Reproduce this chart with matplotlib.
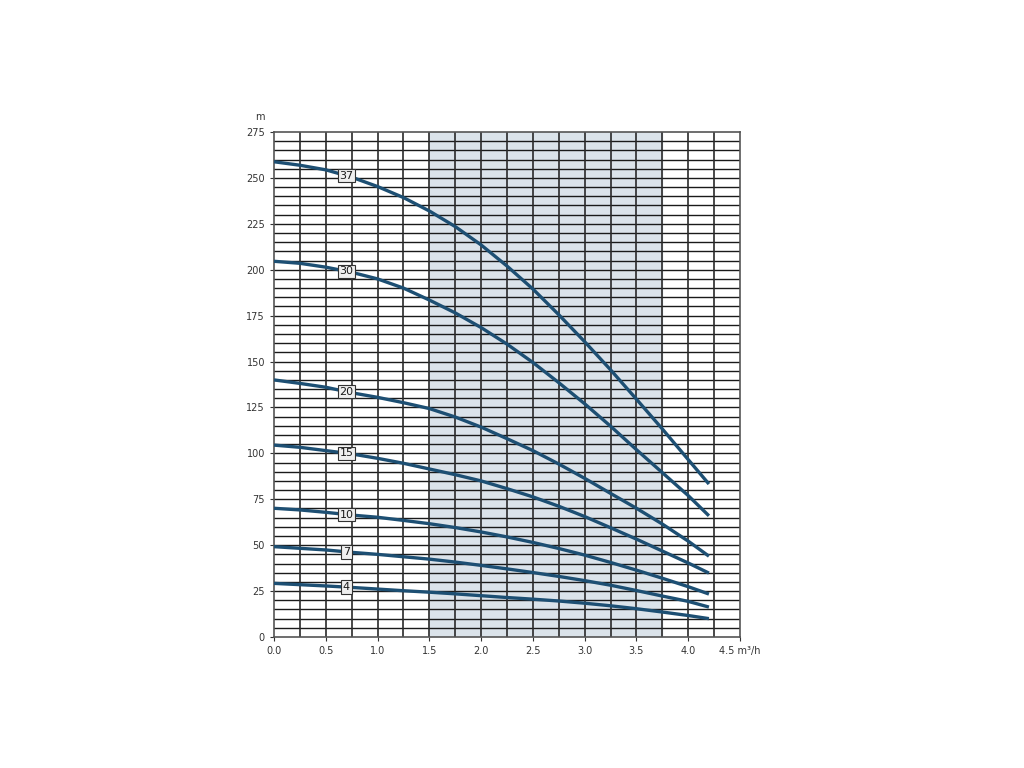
import matplotlib.pyplot as plt
import numpy as np

# flow rate (m3/h) points
q = [0.0, 0.25, 0.5, 0.75, 1.0, 1.25, 1.5, 1.75, 2.0, 2.25, 2.5,
     2.75, 3.0, 3.25, 3.5, 3.75, 4.0, 4.2]

# head curves (m) per stage count
curves = {
    "37": [258.8, 256.9, 254.4, 250.4, 245.3, 239.3, 232, 223.5, 213.5, 202, 189.5,
           175.5, 160.8, 145.5, 129.5, 113.3, 96.6, 83.3],
    "30": [204.6, 203.5, 201.4, 198.6, 195, 190, 183.5, 176.5, 168.5, 159.5, 149.5,
           138.5, 127, 114.8, 102, 89.5, 77, 66],
    "20": [140, 138.1, 136, 133, 130.5, 127.6, 124.4, 119.8, 114.3, 108, 101.5,
           94.2, 86.4, 78.2, 70.1, 61.5, 52.2, 44],
    "15": [104.5, 103.3, 101.5, 99.7, 97.3, 94.6, 91.5, 88.4, 85, 80.8, 76.3,
           71.2, 65.6, 59.5, 53.3, 46.8, 40.3, 34.8],
    "10": [70.1, 69.2, 67.9, 66.4, 65.2, 63.5, 61.7, 59.6, 57.2, 54.5, 51.5,
           48.2, 44.6, 40.6, 36.4, 32, 27.4, 23.4],
    "7": [49.2, 48.3, 47.4, 46.1, 45, 43.7, 42.4, 40.8, 39, 37.1, 35.1,
          33, 30.7, 28.2, 25.3, 22.3, 19.4, 16.3],
    "4": [29.2, 28.5, 27.8, 27, 26.1, 25.2, 24.4, 23.5, 22.5, 21.5, 20.6,
          19.6, 18.4, 17, 15.4, 13.6, 11.7, 10],
}
label_q = 0.7

yticks = list(range(0, 276, 25))
xticks = [0.0, 0.5, 1.0, 1.5, 2.0, 2.5, 3.0, 3.5, 4.0, 4.5]
xticklabels = ["0.0", "0.5", "1.0", "1.5", "2.0", "2.5", "3.0", "3.5", "4.0", "4.5 m³/h"]

fig = plt.figure(figsize=(10.24, 7.68), dpi=100)
ax = fig.add_axes([274 / 1024, 1 - 637 / 768, 466 / 1024, 505 / 768])

# preferred operating range
ax.axvspan(1.5, 3.75, color="#dbe3ea", zorder=0)

# grid
for y in np.arange(5, 275, 5):
    ax.axhline(y, color="#1a1a1a", lw=1.0, zorder=1)
for x in np.arange(0.25, 4.5, 0.25):
    ax.axvline(x, color="#2a2a2a", lw=1.2, zorder=1)

line_color = "#1d4f73"
for name, h in curves.items():
    ax.plot(q, h, color=line_color, lw=2.4, zorder=3, solid_capstyle="butt",
            solid_joinstyle="round")
    yl = np.interp(label_q, q, h)
    ax.text(label_q, yl, name, ha="center", va="center", fontsize=8, color="#1a1a1a",
            zorder=4, bbox=dict(boxstyle="square,pad=0.15", fc="#efefef", ec="#333333", lw=0.8))

ax.set_xlim(0, 4.5)
ax.set_ylim(0, 275)
ax.set_xticks(xticks)
ax.set_xticklabels(xticklabels)
ax.set_yticks(yticks)
ax.tick_params(labelsize=7, colors="#333333", length=3, width=0.8)
for lab in ax.get_xticklabels() + ax.get_yticklabels():
    lab.set_color("#333333")
for s in ax.spines.values():
    s.set_color("#555555")
    s.set_linewidth(1.2)

ax.text(-0.03, 1.02, "m", transform=ax.transAxes, ha="center", va="bottom",
        fontsize=7, color="#333333")

fig.savefig("out.png", dpi=100)
